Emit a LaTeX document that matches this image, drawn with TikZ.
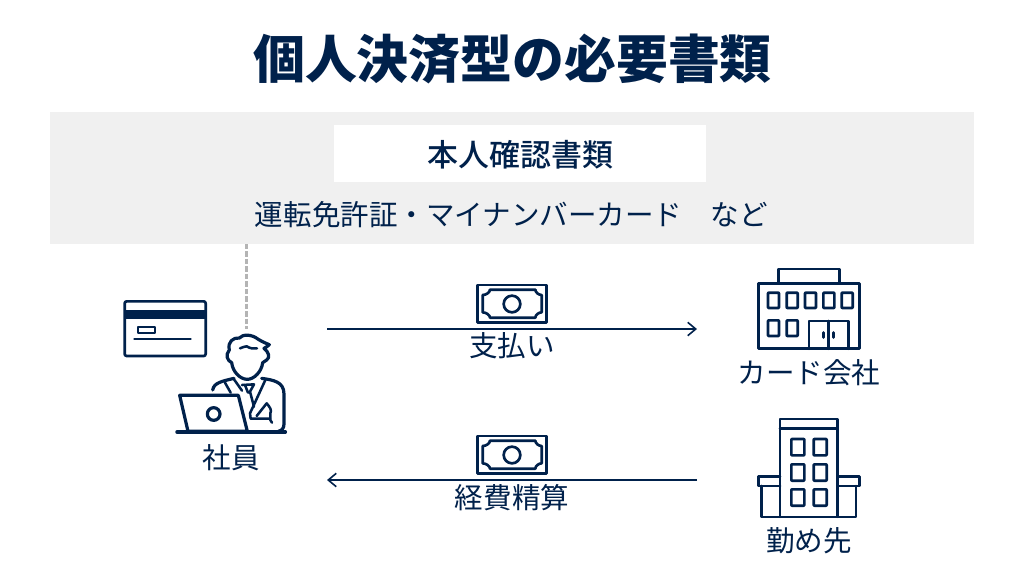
\documentclass[tikz,border=0pt]{standalone}
\usepackage{fontspec}
\setmainfont{Noto Sans CJK JP}
\newfontfamily\medfont{Noto Sans CJK JP Medium}
\usetikzlibrary{arrows.meta}
\definecolor{navy}{HTML}{00214B}
\definecolor{panelgray}{HTML}{F0F0F0}
\definecolor{dashgray}{HTML}{B4B4B4}
\tikzset{
  lab/.style={text=navy,font=\fontsize{21.4}{21.4}\selectfont,inner sep=0pt,anchor=center},
  conn/.style={navy,line width=1.5pt,-{Straight Barb[length=6pt,width=10pt,line width=1.2pt]}},
  ico/.style={navy,line width=2pt,line join=round,line cap=round},
  icothick/.style={navy,line width=2.4pt,line join=round,line cap=round},
  thinpart/.style={navy,line width=1.9pt,line join=round,line cap=round},
  zoomed/.style={x=0.25pt,y=-0.25pt},
}
\begin{document}
\begin{tikzpicture}[x=0.75pt,y=-0.75pt]
\useasboundingbox (0,0) rectangle (1024,576);
\fill[white] (0,0) rectangle (1024,576);
\node[inner sep=0pt,text=navy,font=\fontsize{38.9}{38.9}\bfseries\selectfont] (title) at (512.5,59) {個人決済型の必要書類};
\node[fill=panelgray,minimum width=693pt,minimum height=99pt,inner sep=0pt] (panel) at (512,178) {};
\node[fill=white,minimum width=279pt,minimum height=43pt,inner sep=0pt] (head) at (520,153.5) {};
\node[lab,font=\medfont\fontsize{23.2}{23.2}\selectfont] (headt) at (520.5,155) {本人確認書類};
\node[lab] (sub) at (511.5,214.5) {運転免許証・マイナンバーカード　など};
\coordinate (dashtop) at (246.5,244);
\coordinate (dashend) at (246.5,329);
\draw[dashgray,line width=1.6pt,dash pattern=on 4pt off 1.6pt] (dashtop) -- (dashend);
% card
\begin{scope}[shift={(110,240)},zoomed]
\draw[ico,rounded corners=1.5pt] (44,184) rectangle (287,348);
\fill[navy] (44,209) rectangle (287,238);
\draw[ico,line width=1.7pt] (85,261) rectangle (135,280);
\draw[ico,line width=1.7pt] (73,298) -- (242,298);
\end{scope}
% person
\begin{scope}[shift={(110,240)},zoomed]
\draw[icothick] (365,368) .. controls (352,362) and (345,345) .. (358,330)
  .. controls (352,305) and (370,292) .. (388,294)
  .. controls (398,282) and (425,282) .. (445,298)
  .. controls (458,306) and (468,310) .. (478,314)
  .. controls (472,320) and (466,323) .. (462,325)
  .. controls (475,335) and (482,352) .. (470,360)
  .. controls (466,364) and (462,366) .. (458,368)
  .. controls (455,395) and (432,418) .. (412,418)
  .. controls (390,418) and (368,395) .. (365,368) -- cycle;
\draw[thinpart] (390,325) .. controls (400,325) and (402,316) .. (410,319) .. controls (420,325) and (430,327) .. (441,325);
\draw[icothick] (308,450) .. controls (312,428) and (335,424) .. (372,415);
\draw[icothick] (455,415) .. controls (490,420) and (522,425) .. (522,462) -- (522,552) .. controls (522,565) and (515,572) .. (505,574);
\draw[thinpart] (345,428) -- (362,458);
\draw[thinpart] (372,418) -- (396,452);
\draw[thinpart] (396,435) -- (432,433) -- (420,455) -- (432,500);
\draw[thinpart] (405,435) -- (414,458);
\draw[thinpart] (466,420) -- (420,520) -- (422,536) -- (480,536);
\draw[thinpart] (440,528) -- (470,490);
\draw[thinpart] (470,490) .. controls (478,500) and (487,510) .. (481,520) -- (481,540) -- (486,548);
\draw[icothick,fill=white] (209,466) -- (385,466) -- (412,574) -- (234,574) -- cycle;
\draw[icothick] (311,522) circle (19);
\draw[navy,line width=2.6pt,line cap=round] (201,576) -- (526,576);
\end{scope}
\node[lab] (staff) at (231.5,458) {社員};
% money
\newcommand{\moneyicon}[1]{%
\begin{scope}[shift={(460,#1)},zoomed]
\draw[ico] (52,30) rectangle (260,142);
\draw[ico] (90,44) -- (226,44) .. controls (226,52) and (236,60) .. (245,60)
 -- (245,112) .. controls (236,112) and (226,120) .. (226,128) -- (90,128)
 .. controls (90,120) and (78,112) .. (68,112) -- (68,60) .. controls (78,60) and (90,52) .. (90,44) -- cycle;
\draw[ico] (156,87) circle (25);
\end{scope}}
\moneyicon{275}
\moneyicon{426}
\coordinate (a1s) at (327,329);
\coordinate (a1e) at (697,329);
\coordinate (a2s) at (697,480);
\coordinate (a2e) at (327,480);
\draw[conn] (a1s) -- (a1e);
\draw[conn] (a2s) -- (a2e);
\node[lab] (pay) at (512,346) {支払い};
\node[lab] (reimb) at (512,498) {経費精算};
% office
\begin{scope}[shift={(730,260)},zoomed]
\draw[ico] (85,70) rectangle (388,266);
\draw[ico] (145,70) -- (145,27) -- (328,27) -- (328,70);
\foreach \wx in {114,170,225,280,335} \draw[ico,rounded corners=0.5pt] (\wx,98) rectangle ++(33,46);
\foreach \wx in {114,170} \draw[ico,rounded corners=0.5pt] (\wx,181) rectangle ++(33,47);
\draw[ico] (237,266) -- (237,183) -- (355,183) -- (355,266);
\draw[ico] (296,183) -- (296,266);
\draw[ico,line width=2.4pt] (280,218) -- (280,232);
\draw[ico,line width=2.4pt] (311,218) -- (311,232);
\end{scope}
\node[lab] (card) at (809,373) {カード会社};
% tower
\begin{scope}[shift={(740,410)},zoomed]
\draw[ico] (120,320) -- (120,27) -- (292,27) -- (292,320);
\draw[ico] (120,56) -- (292,56);
\foreach \wx in {154,221} \foreach \wy in {87,163,238} \draw[ico,rounded corners=0.5pt] (\wx,\wy) rectangle ++(39,49);
\draw[ico] (120,200) -- (55,200) -- (55,228) -- (120,228);
\draw[ico] (292,200) -- (358,200) -- (358,228) -- (292,228);
\draw[ico] (65,228) -- (65,321) -- (348,321) -- (348,228);
\end{scope}
\node[lab] (work) at (809,541) {勤め先};
\end{tikzpicture}
\end{document}
